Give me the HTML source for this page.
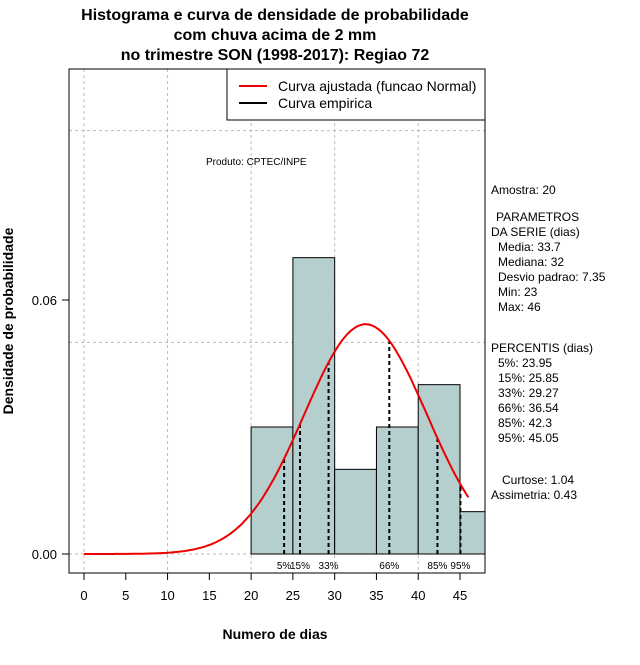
<!DOCTYPE html>
<html><head><meta charset="utf-8"><style>
body{margin:0;background:#fff}
svg{font-family:"Liberation Sans",sans-serif}
</style></head><body>
<svg width="640" height="660" xmlns="http://www.w3.org/2000/svg">
<g id="root"></g>
<rect x="69" y="69" width="416" height="504" fill="none" stroke="#000"/>
<g>
<rect x="227" y="69" width="258" height="51" fill="#fff" stroke="#000"/>
<line x1="239" y1="86" x2="267" y2="86" stroke="#e00" stroke-width="2"/>
<text x="278" y="91" font-size="14">Curva ajustada (funcao Normal)</text>
<line x1="239" y1="103" x2="267" y2="103" stroke="#000" stroke-width="2"/>
<text x="278" y="108" font-size="14">Curva empirica</text>
</g>
<g font-weight="bold" font-size="16" text-anchor="middle">
<text x="275" y="20">Histograma e curva de densidade de probabilidade</text>
<text x="275" y="40">com chuva acima de 2 mm</text>
<text x="275" y="60">no trimestre SON (1998-2017): Regiao 72</text>
</g>
<text x="275" y="639" font-size="14" font-weight="bold" text-anchor="middle">Numero de dias</text>
<text transform="translate(13,321) rotate(-90)" font-size="14" font-weight="bold" text-anchor="middle">Densidade de probabilidade</text>
<text x="206" y="165" font-size="10">Produto: CPTEC/INPE</text>
<g font-size="12">
<text x="491" y="194">Amostra: 20</text>
<text x="496" y="221">PARAMETROS</text>
<text x="491" y="236">DA SERIE (dias)</text>
<text x="498" y="251">Media: 33.7</text>
<text x="498" y="266">Mediana: 32</text>
<text x="498" y="281">Desvio padrao: 7.35</text>
<text x="498" y="296">Min: 23</text>
<text x="498" y="311">Max: 46</text>
<text x="491" y="352">PERCENTIS (dias)</text>
<text x="498" y="367">5%: 23.95</text>
<text x="498" y="382">15%: 25.85</text>
<text x="498" y="397">33%: 29.27</text>
<text x="498" y="412">66%: 36.54</text>
<text x="498" y="427">85%: 42.3</text>
<text x="498" y="442">95%: 45.05</text>
<text x="502" y="484">Curtose: 1.04</text>
<text x="491" y="499">Assimetria: 0.43</text>
</g>
</svg>
<script>
const binStarts=[20,25,30,35,40,45];
const densities=[0.03,0.07,0.02,0.03,0.04,0.01];
const xTicks=[0,5,10,15,20,25,30,35,40,45];
const yTicks=[0.00,0.06];
const yTickLabels=["0.00","0.06"];
const pctValues=[23.95,25.85,29.27,36.54,42.3,45.05];
const pctLabels=["5%","15%","33%","66%","85%","95%"];
const mean=33.7, sd=7.35;
const NS="http://www.w3.org/2000/svg";
const root=document.getElementById('root');
const X=v=>84+v*(376/45);
const Y=v=>554-v*(254/0.06);
function mk(t,a){const e=document.createElementNS(NS,t);for(const k in a)e.setAttribute(k,a[k]);root.appendChild(e);return e;}
function txt(s,x,y,a){const e=mk('text',Object.assign({x:x,y:y,'font-size':12},a));e.textContent=s;return e;}
[0,10,20,30,40].forEach(v=>{
const l=mk('line',{x1:X(v),x2:X(v),y1:69,y2:573,stroke:'#bbb','stroke-dasharray':'3,3'});

});
[0,0.05,0.1].forEach(v=>{
const l=mk('line',{x1:69,x2:485,y1:Y(v),y2:Y(v),stroke:'#bbb','stroke-dasharray':'3,3'});

});
binStarts.forEach((b,i)=>{
const x1=X(b),x2=Math.min(X(b+5),485);
const r=mk('rect',{x:x1,y:Y(densities[i]),width:x2-x1,height:Y(0)-Y(densities[i]),fill:'#b5cfcf',stroke:'#000','stroke-width':1});

});
const dens=v=>Math.exp(-0.5*((v-mean)/sd)**2)/(sd*Math.sqrt(2*Math.PI));
pctValues.forEach((p,i)=>{
const l=mk('line',{x1:X(p),x2:X(p),y1:Y(0),y2:Y(dens(p)),stroke:'#000','stroke-width':2,'stroke-dasharray':'4,3'});


const t=txt(pctLabels[i],X(p),569,{'font-size':10,'text-anchor':'middle'});

});
let d='';for(let v=0;v<=46;v+=0.25){d+=(v?'L':'M')+X(v).toFixed(1)+','+Y(dens(v)).toFixed(1);}
const c=mk('path',{d:d,fill:'none',stroke:'#e00','stroke-width':2});


xTicks.forEach(v=>{
const l=mk('line',{x1:X(v),x2:X(v),y1:573,y2:580,stroke:'#000'});


const t=txt(String(v),X(v),600,{'font-size':13,'text-anchor':'middle'});

});
yTicks.forEach((v,i)=>{
const l=mk('line',{x1:62,x2:69,y1:Y(v),y2:Y(v),stroke:'#000'});


const t=txt(yTickLabels[i],57,Y(v)+5,{'font-size':13,'text-anchor':'end'});

});
</script>
</body></html>
